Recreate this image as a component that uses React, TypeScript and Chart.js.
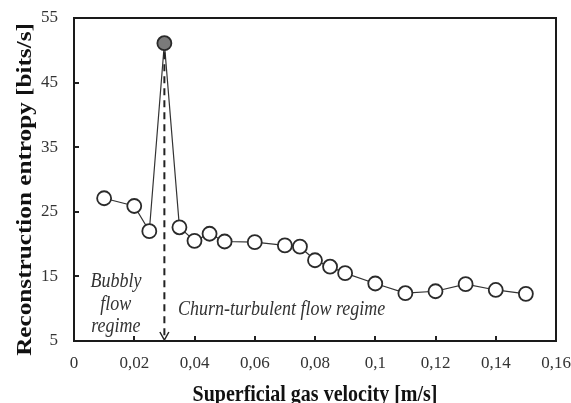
import React, { useEffect, useRef } from "react";
import { Chart, registerables } from "chart.js";

Chart.register(...registerables);

const velocities = [0.01, 0.02, 0.025, 0.03, 0.035, 0.04, 0.045, 0.05, 0.06, 0.07, 0.075, 0.08, 0.085, 0.09, 0.1, 0.11, 0.12, 0.13, 0.14, 0.15];
const entropy = [27.1, 25.9, 22.0, 51.1, 22.6, 20.5, 21.6, 20.4, 20.3, 19.8, 19.6, 17.5, 16.5, 15.5, 13.9, 12.4, 12.7, 13.8, 12.9, 12.3];
const transitionVelocity = 0.03;
const xTicks = [0, 0.02, 0.04, 0.06, 0.08, 0.1, 0.12, 0.14, 0.16];
const yTicks = [5, 15, 25, 35, 45, 55];
const xTitle = "Superficial gas velocity [m/s]";
const yTitle = "Reconstruction entropy [bits/s]";
const bubblyLines = ["Bubbly", "flow", "regime"];
const bubblyY = [13.4, 9.8, 6.4];
const bubblyX = 0.0139;
const churnText = "Churn-turbulent flow regime";
const churnX = 0.0345;
const churnY = 9.0;

const SERIF = "'Liberation Serif', 'DejaVu Serif', serif";
const STRETCH = 1.2;

function stretchedText(ctx: any, text: string, x: number, y: number, align: string, rotate = 0) {
  ctx.save();
  ctx.translate(x, y);
  if (rotate) ctx.rotate(rotate);
  if (rotate) ctx.scale(STRETCH, 1);
  else ctx.scale(1, STRETCH);
  ctx.textAlign = align;
  ctx.textBaseline = "alphabetic";
  ctx.fillText(text, 0, 0);
  ctx.restore();
}

const decorPlugin = {
  id: "decor",
  afterDraw(chart: any) {
    const { ctx, chartArea: a, scales } = chart;
    const xs = scales.x;
    const ys = scales.y;
    ctx.save();
    // inner ticks
    ctx.strokeStyle = "#222";
    ctx.lineWidth = 2;
    ctx.beginPath();
    for (const v of yTicks) {
      const py = Math.round(ys.getPixelForValue(v));
      ctx.moveTo(a.left, py);
      ctx.lineTo(a.left + 5, py);
    }
    for (const v of xTicks) {
      const px = Math.round(xs.getPixelForValue(v));
      ctx.moveTo(px, a.bottom);
      ctx.lineTo(px, a.bottom - 5);
    }
    ctx.stroke();
    // frame
    ctx.lineWidth = 2;
    ctx.strokeStyle = "#1a1a1a";
    ctx.strokeRect(a.left, a.top, a.right - a.left, a.bottom - a.top);

    // dashed transition line
    const tx = xs.getPixelForValue(transitionVelocity);
    const peakY = ys.getPixelForValue(entropy[velocities.indexOf(transitionVelocity)]);
    ctx.setLineDash([7, 5]);
    ctx.strokeStyle = "#222";
    ctx.lineWidth = 2;
    ctx.beginPath();
    ctx.moveTo(tx, peakY + 9);
    ctx.lineTo(tx, a.bottom - 2);
    ctx.stroke();
    ctx.setLineDash([]);
    ctx.lineWidth = 1.5;
    ctx.beginPath();
    ctx.moveTo(tx - 4.5, a.bottom - 9);
    ctx.lineTo(tx, a.bottom - 1);
    ctx.lineTo(tx + 4.5, a.bottom - 9);
    ctx.stroke();

    // annotations
    ctx.fillStyle = "#333";
    ctx.font = `italic 18px ${SERIF}`;
    const bx = xs.getPixelForValue(bubblyX);
    bubblyLines.forEach((t, i) => stretchedText(ctx, t, bx, ys.getPixelForValue(bubblyY[i]), "center"));
    stretchedText(ctx, churnText, xs.getPixelForValue(churnX), ys.getPixelForValue(churnY), "left");

    // axis titles
    ctx.fillStyle = "#111";
    ctx.font = `bold 20px ${SERIF}`;
    stretchedText(ctx, xTitle, (a.left + a.right) / 2, 401, "center");
    ctx.font = `bold 21px ${SERIF}`;
    stretchedText(ctx, yTitle, 31, (a.top + a.bottom) / 2 + 10, "center", -Math.PI / 2);
    ctx.restore();
  },
};

export default function App() {
  const ref = useRef<HTMLCanvasElement | null>(null);
  useEffect(() => {
    document.body.style.margin = "0";
    if (!ref.current) return;
    const peakIdx = velocities.indexOf(transitionVelocity);
    const chart = new Chart(ref.current, {
      type: "scatter",
      data: {
        datasets: [
          {
            data: velocities.map((v, i) => ({ x: v, y: entropy[i] })),
            showLine: true,
            borderColor: "#333",
            borderWidth: 1.2,
            pointRadius: 7,
            pointBorderWidth: 1.8,
            pointBorderColor: "#2a2a2a",
            pointBackgroundColor: velocities.map((_, i) => (i === peakIdx ? "#7a7a7a" : "#ffffff")),
          },
        ],
      },
      options: {
        animation: false,
        responsive: false,
        layout: { padding: { top: 18, right: 15, left: 0, bottom: 0 } },
        plugins: { legend: { display: false }, tooltip: { enabled: false } },
        scales: {
          x: {
            type: "linear",
            min: 0,
            max: 0.16,
            afterBuildTicks: (s: any) => {
              s.ticks = xTicks.map((v) => ({ value: v }));
            },
            afterFit: (s: any) => {
              s.height = 62;
              s.paddingLeft = 0;
              s.paddingRight = 0;
            },
            grid: { display: false, drawTicks: false },
            border: { display: false },
            ticks: {
              padding: 12,
              color: "#333",
              font: { family: SERIF, size: 17 },
              callback: (v: any) => String(Number(v)).replace(".", ","),
              maxRotation: 0,
              autoSkip: false,
            },
          },
          y: {
            min: 5,
            max: 55,
            afterBuildTicks: (s: any) => {
              s.ticks = yTicks.map((v) => ({ value: v }));
            },
            afterFit: (s: any) => {
              s.width = 74;
              s.paddingTop = 0;
              s.paddingBottom = 0;
            },
            grid: { display: false, drawTicks: false },
            border: { display: false },
            ticks: {
              padding: 16,
              color: "#333",
              font: { family: SERIF, size: 17 },
            },
          },
        },
      },
      plugins: [decorPlugin],
    } as any);
    return () => chart.destroy();
  }, []);
  return (
    <div style={{ width: 571, height: 403 }}>
      <canvas ref={ref} width={571} height={403} style={{ display: "block" }} />
    </div>
  );
}
